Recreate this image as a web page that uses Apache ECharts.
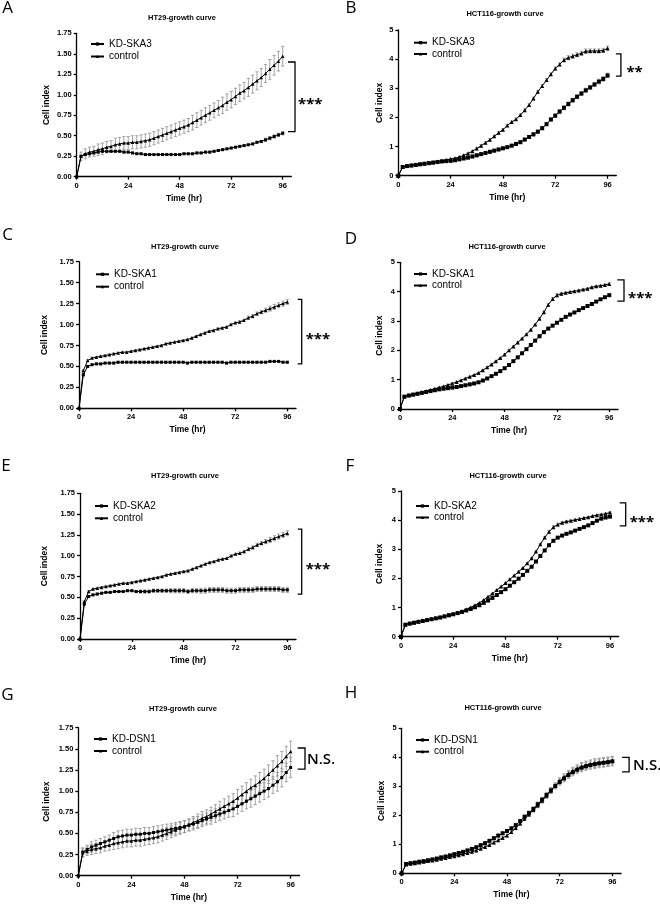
<!DOCTYPE html>
<html><head><meta charset="utf-8">
<script src="https://cdn.jsdelivr.net/npm/echarts@6.0.0/dist/echarts.min.js"></script>
<style>html,body{margin:0;padding:0;background:#fff}#c{width:660px;height:904px}</style>
</head><body><div id="c"></div>
<script>
// ---------- DATA ----------
const hours = [0,2,4,6,8,10,12, 14,16,18,20,22,24,26, 28,30,32,34,36,38,40, 42,44,46,48,50,52,54, 56,58,60,62,64,66,68, 70,72,74,76,78,80,82, 84,86,88,90,92,94,96];
const xTickValues = [0, 24, 48, 72, 96];
const panelLetters = ['A','B','C','D','E','F','G','H'];
const panelTitles = ['HT29-growth curve','HCT116-growth curve','HT29-growth curve','HCT116-growth curve','HT29-growth curve','HCT116-growth curve','HT29-growth curve','HCT116-growth curve'];
const kdNames = ['KD-SKA3','KD-SKA3','KD-SKA1','KD-SKA1','KD-SKA2','KD-SKA2','KD-DSN1','KD-DSN1'];
const ctrlName = 'control';
const yMaxes = [1.75, 5, 1.75, 5, 1.75, 5, 1.75, 5];
const ySteps = [0.25, 1, 0.25, 1, 0.25, 1, 0.25, 1];
const yDecimals = [2, 0, 2, 0, 2, 0, 2, 0];
const sigLabels = ['***','**','***','***','***','***','N.S.','N.S.'];
const bracketLow  = [0.55, 3.42, 0.53, 3.68, 0.54, 3.80, 1.26, 3.50];
const bracketHigh = [1.40, 4.18, 1.30, 4.40, 1.32, 4.59, 1.51, 4.00];

// Panel A: HT29 KD-SKA3
const A_kd = [0,0.25,0.27,0.28,0.29,0.30,0.31, 0.31,0.31,0.31,0.31,0.30,0.30,0.29, 0.28,0.28,0.27,0.27,0.27,0.27,0.27, 0.27,0.27,0.27,0.27,0.28,0.28,0.28, 0.29,0.29,0.30,0.30,0.31,0.32,0.33, 0.34,0.35,0.36,0.37,0.38,0.39,0.40, 0.42,0.43,0.45,0.47,0.49,0.51,0.53];
const A_kdErr = [0,0.01,0.01,0.01,0.01,0.01,0.01, 0.01,0.01,0.01,0.01,0.01,0.01,0.01, 0.01,0.01,0.01,0.01,0.01,0.01,0.01, 0.01,0.01,0.01,0.01,0.01,0.01,0.01, 0.01,0.01,0.01,0.01,0.01,0.01,0.01, 0.01,0.01,0.01,0.01,0.01,0.01,0.01, 0.01,0.01,0.02,0.02,0.02,0.02,0.02];
const A_ctrl = [0,0.25,0.28,0.30,0.31,0.33,0.34, 0.36,0.37,0.39,0.40,0.41,0.41,0.42, 0.42,0.43,0.44,0.45,0.47,0.49,0.51, 0.53,0.55,0.57,0.59,0.61,0.63,0.66, 0.69,0.72,0.75,0.78,0.81,0.84,0.87, 0.91,0.94,0.98,1.02,1.05,1.09,1.13, 1.17,1.21,1.26,1.31,1.36,1.41,1.47];
const A_ctrlErr = [0,0.05,0.06,0.06,0.06,0.07,0.07, 0.07,0.07,0.08,0.08,0.08,0.08,0.08, 0.08,0.08,0.08,0.08,0.08,0.08,0.08, 0.08,0.08,0.08,0.08,0.08,0.08,0.09, 0.09,0.09,0.09,0.09,0.09,0.09,0.10, 0.10,0.10,0.10,0.10,0.10,0.11,0.11, 0.11,0.11,0.11,0.12,0.12,0.12,0.12];

// Panel B: HCT116 KD-SKA3
const B_kd = [0,0.30,0.33,0.35,0.37,0.39,0.41, 0.43,0.45,0.47,0.49,0.50,0.51,0.53, 0.56,0.59,0.62,0.66,0.70,0.74,0.78, 0.82,0.86,0.90,0.94,0.98,1.03,1.09, 1.15,1.24,1.33,1.42,1.51,1.63,1.77, 1.93,2.06,2.20,2.33,2.46,2.59,2.71, 2.82,2.93,3.03,3.13,3.23,3.32,3.44];
const B_kdErr = [0,0.04,0.04,0.04,0.04,0.04,0.04, 0.04,0.04,0.04,0.04,0.04,0.04,0.04, 0.04,0.04,0.05,0.05,0.05,0.05,0.05, 0.05,0.05,0.05,0.05,0.05,0.05,0.05, 0.05,0.05,0.05,0.06,0.06,0.06,0.06, 0.06,0.06,0.07,0.07,0.07,0.07,0.07, 0.07,0.07,0.07,0.07,0.08,0.08,0.08];
const B_ctrl = [0,0.30,0.33,0.36,0.38,0.40,0.42, 0.44,0.46,0.49,0.51,0.54,0.57,0.60, 0.64,0.70,0.76,0.84,0.93,1.03,1.13, 1.23,1.35,1.47,1.58,1.72,1.84,1.94, 2.08,2.25,2.43,2.65,2.88,3.08,3.28, 3.48,3.68,3.82,3.97,4.05,4.10,4.15, 4.20,4.27,4.28,4.28,4.28,4.30,4.37];
const B_ctrlErr = [0,0.03,0.03,0.03,0.03,0.03,0.03, 0.03,0.03,0.03,0.03,0.03,0.03,0.03, 0.03,0.03,0.04,0.04,0.04,0.04,0.04, 0.04,0.04,0.04,0.04,0.04,0.04,0.04, 0.04,0.04,0.04,0.05,0.05,0.05,0.05, 0.05,0.05,0.05,0.07,0.07,0.07,0.07, 0.07,0.08,0.07,0.07,0.07,0.07,0.08];

// Panel C: HT29 KD-SKA1
const C_kd = [0,0.40,0.50,0.52,0.53,0.53,0.54, 0.54,0.54,0.55,0.55,0.55,0.55,0.55, 0.55,0.55,0.55,0.55,0.55,0.55,0.55, 0.55,0.55,0.55,0.55,0.54,0.55,0.55, 0.55,0.55,0.55,0.55,0.55,0.55,0.54, 0.55,0.55,0.55,0.55,0.55,0.55,0.55, 0.55,0.55,0.56,0.56,0.56,0.55,0.55];
const C_kdErr = [0,0.01,0.01,0.01,0.01,0.01,0.01, 0.01,0.01,0.01,0.01,0.01,0.01,0.01, 0.01,0.01,0.01,0.01,0.01,0.01,0.01, 0.01,0.01,0.01,0.01,0.01,0.01,0.01, 0.01,0.01,0.01,0.01,0.01,0.01,0.01, 0.01,0.01,0.01,0.01,0.01,0.01,0.01, 0.01,0.01,0.01,0.01,0.01,0.01,0.01];
const C_ctrl = [0,0.45,0.57,0.60,0.61,0.62,0.63, 0.64,0.65,0.66,0.67,0.67,0.68,0.69, 0.70,0.71,0.72,0.73,0.74,0.75,0.77, 0.78,0.79,0.80,0.81,0.82,0.84,0.86, 0.88,0.90,0.92,0.93,0.95,0.96,0.97, 1.00,1.02,1.03,1.05,1.08,1.10,1.13, 1.15,1.17,1.19,1.21,1.23,1.25,1.27];
const C_ctrlErr = [0,0.01,0.01,0.01,0.01,0.01,0.01, 0.01,0.01,0.01,0.01,0.01,0.01,0.01, 0.01,0.01,0.01,0.01,0.01,0.01,0.01, 0.01,0.01,0.01,0.01,0.01,0.01,0.01, 0.01,0.01,0.01,0.01,0.01,0.01,0.01, 0.01,0.01,0.015,0.015,0.02,0.02,0.02, 0.02,0.025,0.03,0.03,0.03,0.03,0.03];

// Panel D: HCT116 KD-SKA1
const D_kd = [0,0.42,0.46,0.49,0.52,0.55,0.58, 0.61,0.64,0.67,0.69,0.71,0.73,0.75, 0.78,0.81,0.84,0.87,0.91,0.97,1.04, 1.12,1.20,1.29,1.39,1.50,1.63,1.76, 1.90,2.04,2.18,2.33,2.48,2.62,2.74, 2.84,2.94,3.04,3.14,3.22,3.29,3.37, 3.44,3.51,3.58,3.66,3.74,3.81,3.88];
const D_kdErr = [0,0.02,0.02,0.02,0.02,0.02,0.02, 0.02,0.02,0.02,0.02,0.02,0.02,0.02, 0.02,0.02,0.02,0.02,0.02,0.02,0.02, 0.02,0.02,0.02,0.02,0.02,0.02,0.02, 0.02,0.02,0.02,0.02,0.02,0.02,0.02, 0.02,0.02,0.02,0.02,0.02,0.02,0.02, 0.02,0.02,0.02,0.02,0.02,0.02,0.03];
const D_ctrl = [0,0.43,0.47,0.50,0.53,0.57,0.61, 0.65,0.69,0.73,0.77,0.82,0.87,0.92, 0.98,1.04,1.10,1.16,1.23,1.32,1.42, 1.52,1.63,1.74,1.86,2.00,2.13,2.27, 2.40,2.55,2.70,2.88,3.08,3.30,3.55, 3.75,3.88,3.93,3.96,3.99,4.01,4.04, 4.07,4.10,4.15,4.18,4.20,4.23,4.26];
const D_ctrlErr = [0,0.02,0.02,0.02,0.02,0.02,0.02, 0.02,0.02,0.02,0.02,0.02,0.02,0.02, 0.02,0.02,0.02,0.02,0.02,0.02,0.02, 0.02,0.02,0.02,0.02,0.02,0.02,0.02, 0.02,0.02,0.02,0.02,0.03,0.04,0.05, 0.05,0.06,0.05,0.03,0.03,0.03,0.03, 0.03,0.03,0.03,0.03,0.03,0.03,0.04];

// Panel E: HT29 KD-SKA2
const E_kd = [0,0.42,0.51,0.53,0.54,0.55,0.56, 0.56,0.57,0.57,0.57,0.58,0.58,0.57, 0.57,0.57,0.57,0.58,0.58,0.58,0.58, 0.58,0.58,0.58,0.58,0.57,0.58,0.58, 0.58,0.58,0.59,0.59,0.59,0.59,0.58, 0.58,0.58,0.59,0.59,0.59,0.59,0.60, 0.60,0.60,0.60,0.60,0.60,0.59,0.59];
const E_kdErr = [0,0.01,0.01,0.01,0.01,0.01,0.01, 0.01,0.01,0.01,0.01,0.01,0.01,0.01, 0.02,0.02,0.02,0.02,0.02,0.02,0.02, 0.025,0.025,0.025,0.025,0.025,0.025,0.025, 0.03,0.03,0.03,0.03,0.03,0.03,0.03, 0.03,0.03,0.03,0.03,0.03,0.03,0.03, 0.03,0.03,0.03,0.03,0.03,0.03,0.03];
const E_ctrl = [0,0.45,0.57,0.60,0.61,0.62,0.63, 0.64,0.65,0.66,0.67,0.67,0.68,0.69, 0.70,0.71,0.72,0.73,0.74,0.75,0.77, 0.78,0.79,0.80,0.81,0.82,0.84,0.86, 0.88,0.90,0.92,0.93,0.95,0.96,0.97, 1.00,1.02,1.03,1.05,1.08,1.10,1.13, 1.15,1.17,1.19,1.21,1.23,1.25,1.27];
const E_ctrlErr = [0,0.01,0.01,0.01,0.01,0.01,0.01, 0.01,0.01,0.01,0.01,0.01,0.01,0.01, 0.01,0.01,0.01,0.01,0.01,0.01,0.01, 0.01,0.01,0.01,0.01,0.01,0.01,0.01, 0.01,0.01,0.01,0.01,0.01,0.01,0.01, 0.01,0.01,0.015,0.015,0.02,0.02,0.02, 0.02,0.025,0.03,0.03,0.03,0.03,0.03];

// Panel F: HCT116 KD-SKA2
const F_kd = [0,0.41,0.45,0.48,0.51,0.54,0.57, 0.60,0.63,0.66,0.70,0.74,0.77,0.81, 0.85,0.90,0.95,1.01,1.08,1.16,1.24, 1.33,1.43,1.53,1.63,1.75,1.87,1.99, 2.12,2.26,2.40,2.58,2.77,2.96,3.14, 3.29,3.40,3.47,3.53,3.58,3.64,3.70, 3.76,3.82,3.90,3.98,4.05,4.09,4.12];
const F_kdErr = [0,0.02,0.02,0.02,0.02,0.02,0.02, 0.02,0.02,0.02,0.02,0.02,0.02,0.02, 0.02,0.02,0.02,0.02,0.02,0.02,0.02, 0.02,0.02,0.02,0.02,0.02,0.02,0.02, 0.02,0.02,0.02,0.02,0.02,0.02,0.02, 0.02,0.02,0.02,0.02,0.02,0.02,0.02, 0.02,0.02,0.03,0.03,0.03,0.03,0.03];
const F_ctrl = [0,0.42,0.46,0.49,0.52,0.55,0.58, 0.61,0.64,0.67,0.70,0.74,0.78,0.82, 0.87,0.93,1.00,1.08,1.16,1.26,1.37, 1.48,1.60,1.72,1.84,1.97,2.10,2.23, 2.36,2.52,2.69,2.92,3.17,3.40,3.60, 3.76,3.85,3.91,3.95,3.98,4.01,4.04, 4.07,4.10,4.14,4.17,4.19,4.22,4.26];
const F_ctrlErr = [0,0.02,0.02,0.02,0.02,0.02,0.02, 0.02,0.02,0.02,0.02,0.02,0.02,0.02, 0.02,0.02,0.02,0.02,0.02,0.02,0.02, 0.02,0.02,0.02,0.02,0.02,0.02,0.02, 0.02,0.02,0.02,0.02,0.03,0.04,0.05, 0.05,0.05,0.04,0.03,0.03,0.03,0.03, 0.03,0.03,0.03,0.03,0.03,0.03,0.03];

// Panel G: HT29 KD-DSN1
const G_kd = [0,0.28,0.31,0.34,0.36,0.38,0.40, 0.42,0.44,0.46,0.47,0.48,0.48,0.49, 0.49,0.50,0.50,0.51,0.52,0.53,0.54, 0.55,0.56,0.57,0.58,0.60,0.61,0.63, 0.65,0.67,0.69,0.71,0.73,0.75,0.77, 0.79,0.82,0.85,0.88,0.91,0.94,0.97, 1.00,1.03,1.07,1.11,1.16,1.22,1.28];
const G_kdErr = [0,0.05,0.05,0.06,0.06,0.06,0.06, 0.06,0.07,0.07,0.07,0.07,0.07,0.07, 0.07,0.07,0.07,0.07,0.07,0.07,0.07, 0.07,0.07,0.07,0.07,0.07,0.07,0.07, 0.07,0.07,0.08,0.08,0.08,0.08,0.08, 0.09,0.09,0.09,0.09,0.10,0.10,0.10, 0.10,0.10,0.10,0.11,0.11,0.11,0.12];
const G_ctrl = [0,0.27,0.29,0.31,0.32,0.33,0.35, 0.36,0.38,0.39,0.40,0.41,0.41,0.42, 0.42,0.43,0.44,0.45,0.46,0.48,0.50, 0.52,0.54,0.56,0.58,0.60,0.63,0.65, 0.68,0.70,0.73,0.76,0.79,0.82,0.85, 0.88,0.92,0.96,1.00,1.04,1.07,1.11, 1.15,1.20,1.25,1.30,1.35,1.41,1.47];
const G_ctrlErr = [0,0.05,0.05,0.06,0.06,0.06,0.06, 0.06,0.07,0.07,0.07,0.07,0.07,0.07, 0.07,0.07,0.07,0.07,0.07,0.07,0.07, 0.07,0.07,0.07,0.07,0.07,0.07,0.08, 0.08,0.08,0.08,0.08,0.09,0.09,0.09, 0.09,0.10,0.10,0.10,0.10,0.11,0.11, 0.11,0.11,0.11,0.12,0.12,0.12,0.12];

// Panel H: HCT116 KD-DSN1
const H_kd = [0,0.32,0.35,0.37,0.40,0.42,0.45, 0.48,0.51,0.55,0.58,0.62,0.66,0.70, 0.74,0.79,0.84,0.90,0.97,1.04,1.12, 1.21,1.30,1.38,1.46,1.55,1.66,1.80, 1.95,2.08,2.22,2.38,2.54,2.70,2.86, 3.01,3.15,3.27,3.39,3.49,3.57,3.64, 3.69,3.73,3.76,3.79,3.81,3.83,3.86];
const H_kdErr = [0,0.03,0.03,0.03,0.03,0.03,0.03, 0.03,0.03,0.03,0.03,0.03,0.03,0.03, 0.03,0.03,0.04,0.04,0.04,0.04,0.04, 0.05,0.05,0.05,0.05,0.05,0.06,0.06, 0.06,0.07,0.07,0.08,0.08,0.09,0.10, 0.10,0.11,0.12,0.12,0.13,0.13,0.14, 0.14,0.14,0.15,0.15,0.15,0.15,0.15];
const H_ctrl = [0,0.30,0.33,0.35,0.37,0.40,0.42, 0.44,0.47,0.50,0.53,0.56,0.59,0.62, 0.66,0.70,0.74,0.79,0.85,0.91,0.98, 1.06,1.14,1.22,1.30,1.42,1.56,1.72, 1.88,2.03,2.18,2.34,2.50,2.67,2.85, 3.02,3.18,3.31,3.43,3.53,3.61,3.68, 3.73,3.77,3.80,3.82,3.84,3.86,3.88];
const H_ctrlErr = [0,0.03,0.03,0.03,0.03,0.03,0.03, 0.03,0.03,0.03,0.03,0.03,0.03,0.03, 0.03,0.03,0.04,0.04,0.04,0.04,0.04, 0.05,0.05,0.05,0.05,0.05,0.06,0.06, 0.06,0.07,0.07,0.08,0.08,0.09,0.10, 0.10,0.11,0.12,0.12,0.13,0.13,0.14, 0.14,0.14,0.15,0.15,0.15,0.15,0.15];

const kdSeries = [A_kd, B_kd, C_kd, D_kd, E_kd, F_kd, G_kd, H_kd];
const kdErrors = [A_kdErr, B_kdErr, C_kdErr, D_kdErr, E_kdErr, F_kdErr, G_kdErr, H_kdErr];
const ctrlSeries = [A_ctrl, B_ctrl, C_ctrl, D_ctrl, E_ctrl, F_ctrl, G_ctrl, H_ctrl];
const ctrlErrors = [A_ctrlErr, B_ctrlErr, C_ctrlErr, D_ctrlErr, E_ctrlErr, F_ctrlErr, G_ctrlErr, H_ctrlErr];

// ---------- LAYOUT (pixels, no data) ----------
const layout = [
  {grid:[76.7,33.3,214.6,143.4], legend:[90,39,2.5],   nameGap:26,   br:[3.7,7,3],  title:[182,18],  letter:[7.5,8]},
  {grid:[398.3,30,218,145.7],    legend:[413,37.7,1.3],nameGap:14,  br:[4.6,5,5.5],title:[505,14],  letter:[351,8]},
  {grid:[79,261.7,217,146.6],    legend:[95,269.3,2.4],nameGap:30,  br:[5.7,4,4],  title:[185,247], letter:[7.5,235]},
  {grid:[400,262.3,218,146.7],   legend:[413,269,1.5], nameGap:15.5,br:[6,6.7,4],  title:[507,247], letter:[351,239]},
  {grid:[80,493.3,216,145.7],    legend:[94,501,2.3],  nameGap:30.5,br:[5.7,4,4],  title:[185,476], letter:[6,466]},
  {grid:[401,491,217.7,145.7],   legend:[415,501,1.5], nameGap:16.5,br:[7,6,4],    title:[508,476], letter:[350,466]},
  {grid:[78.3,727.7,221.2,148],  legend:[93,734,2],    nameGap:27,  br:[5.5,7.3,2],title:[183,709], letter:[7.5,695]},
  {grid:[401.7,728.3,219.4,145], legend:[415,735,1.7], nameGap:16,  br:[8,7,4],    title:[503,708], letter:[351,693]}
];

const FONT = '"Liberation Sans", Arial, Helvetica, sans-serif';
const ERR_COLOR = '#8f8f8f';

function errorBarRender(params, api) {
  const x = api.value(0), y = api.value(1), e = api.value(2);
  if (!(e > 0)) return;
  const p1 = api.coord([x, y + e]), p2 = api.coord([x, y - e]);
  const cw = 1.6;
  const st = {stroke: ERR_COLOR, lineWidth: 0.8};
  return {type:'group', children:[
    {type:'line', shape:{x1:p1[0], y1:p1[1], x2:p2[0], y2:p2[1]}, style:st},
    {type:'line', shape:{x1:p1[0]-cw, y1:p1[1], x2:p1[0]+cw, y2:p1[1]}, style:st},
    {type:'line', shape:{x1:p2[0]-cw, y1:p2[1], x2:p2[0]+cw, y2:p2[1]}, style:st}
  ]};
}

function makeBracketRender(i) {
  return function (params, api) {
    const cs = params.coordSys;
    const L = layout[i];
    const xr = cs.x + cs.width;
    const yl = api.coord([0, api.value(0)])[1];
    const yh = api.coord([0, api.value(1)])[1];
    const vx = xr + L.br[0];
    const isStar = sigLabels[i].indexOf('*') >= 0;
    return {type:'group', children:[
      {type:'polyline', shape:{points:[[vx - L.br[1], yh],[vx, yh],[vx, yl],[vx - L.br[1], yl]]},
        style:{stroke:'#000', lineWidth:1.3, fill:'none'}},
      {type:'text', x: vx + L.br[2], y: (yl + yh) / 2 + (isStar ? 8 : 1),
        style:{text: sigLabels[i], fontFamily:'"Open Sans", "Liberation Sans", sans-serif',
               fontWeight: isStar ? 'bold' : 600, fontSize: isStar ? 15 : 15,
               fill:'#000', align:'left', verticalAlign:'middle'}}
    ]};
  };
}

const grids = [], xAxes = [], yAxes = [], legends = [], series = [], graphics = [];
for (let i = 0; i < 8; i++) {
  const L = layout[i];
  grids.push({left:L.grid[0], top:L.grid[1], width:L.grid[2], height:L.grid[3], containLabel:false, outerBoundsMode:'none'});
  xAxes.push({
    type:'value', gridIndex:i, min:0, max:100,
    axisLine:{show:true, onZero:false, lineStyle:{color:'#000', width:1.3}},
    axisTick:{show:true, length:3, lineStyle:{color:'#000', width:1.3}, customValues:xTickValues},
    axisLabel:{customValues:xTickValues, color:'#000', fontFamily:FONT, fontWeight:'bold', fontSize:7.5, margin:5},
    splitLine:{show:false},
    name:'Time (hr)', nameLocation:'middle', nameGap:17,
    nameTextStyle:{color:'#000', fontFamily:FONT, fontWeight:'bold', fontSize:8.5}
  });
  const dec = yDecimals[i];
  yAxes.push({
    type:'value', gridIndex:i, min:0, max:yMaxes[i], interval:ySteps[i],
    axisLine:{show:true, onZero:false, lineStyle:{color:'#000', width:1.3}},
    axisTick:{show:true, length:3, lineStyle:{color:'#000', width:1.3}},
    axisLabel:{color:'#000', fontFamily:FONT, fontWeight:'bold', fontSize:7.5, margin:5,
      formatter: v => Number(v).toFixed(dec)},
    splitLine:{show:false},
    name:'Cell index', nameLocation:'middle', nameGap:L.nameGap,
    nameTextStyle:{color:'#000', fontFamily:FONT, fontWeight:'bold', fontSize:8.5}
  });
  legends.push({
    left:L.legend[0], top:L.legend[1], orient:'vertical', itemGap:L.legend[2],
    itemWidth:13, itemHeight:4, padding:0, selectedMode:false,
    data:[kdNames[i], ctrlName],
    textStyle:{fontFamily:FONT, fontSize:10, color:'#000'}
  });
  const big = yMaxes[i] > 2;
  series.push({type:'custom', xAxisIndex:i, yAxisIndex:i, silent:true, z:1,
    renderItem:errorBarRender, encode:{x:0, y:1},
    data: hours.map((h,k) => [h, kdSeries[i][k], kdErrors[i][k]])});
  series.push({type:'custom', xAxisIndex:i, yAxisIndex:i, silent:true, z:1,
    renderItem:errorBarRender, encode:{x:0, y:1},
    data: hours.map((h,k) => [h, ctrlSeries[i][k], ctrlErrors[i][k]])});
  series.push({type:'line', name:kdNames[i], xAxisIndex:i, yAxisIndex:i, z:3,
    symbol:'rect', symbolSize: big ? 4 : 3, showSymbol:true,
    lineStyle:{color:'#000', width:1}, itemStyle:{color:'#000'},
    emphasis:{disabled:true}, silent:true,
    data: hours.map((h,k) => [h, kdSeries[i][k]])});
  series.push({type:'line', name:ctrlName, xAxisIndex:i, yAxisIndex:i, z:3,
    symbol:'triangle', symbolSize: big ? 4 : 3.5, showSymbol:true,
    lineStyle:{color:'#000', width:1}, itemStyle:{color:'#000'},
    emphasis:{disabled:true}, silent:true,
    data: hours.map((h,k) => [h, ctrlSeries[i][k]])});
  series.push({type:'custom', xAxisIndex:i, yAxisIndex:i, silent:true, z:4, clip:false,
    renderItem:makeBracketRender(i), dimensions:['lo','hi'],
    data:[[bracketLow[i], bracketHigh[i]]]});
  graphics.push({type:'text', x:L.title[0], y:L.title[1], silent:true,
    style:{text:panelTitles[i], fontFamily:FONT, fontWeight:'bold', fontSize:7.5, fill:'#000', align:'center', verticalAlign:'middle'}});
  graphics.push({type:'text', x:L.letter[0], y:L.letter[1], silent:true,
    style:{text:panelLetters[i], fontFamily:'"Open Sans", "Noto Sans", sans-serif', fontSize:17, fill:'#000', align:'center', verticalAlign:'middle'}});
}

const chart = echarts.init(document.getElementById('c'), null, {renderer:'canvas', width:660, height:904});
chart.setOption({
  animation:false,
  backgroundColor:'#fff',
  grid:grids, xAxis:xAxes, yAxis:yAxes, legend:legends, series:series, graphic:graphics
});
</script></body></html>
